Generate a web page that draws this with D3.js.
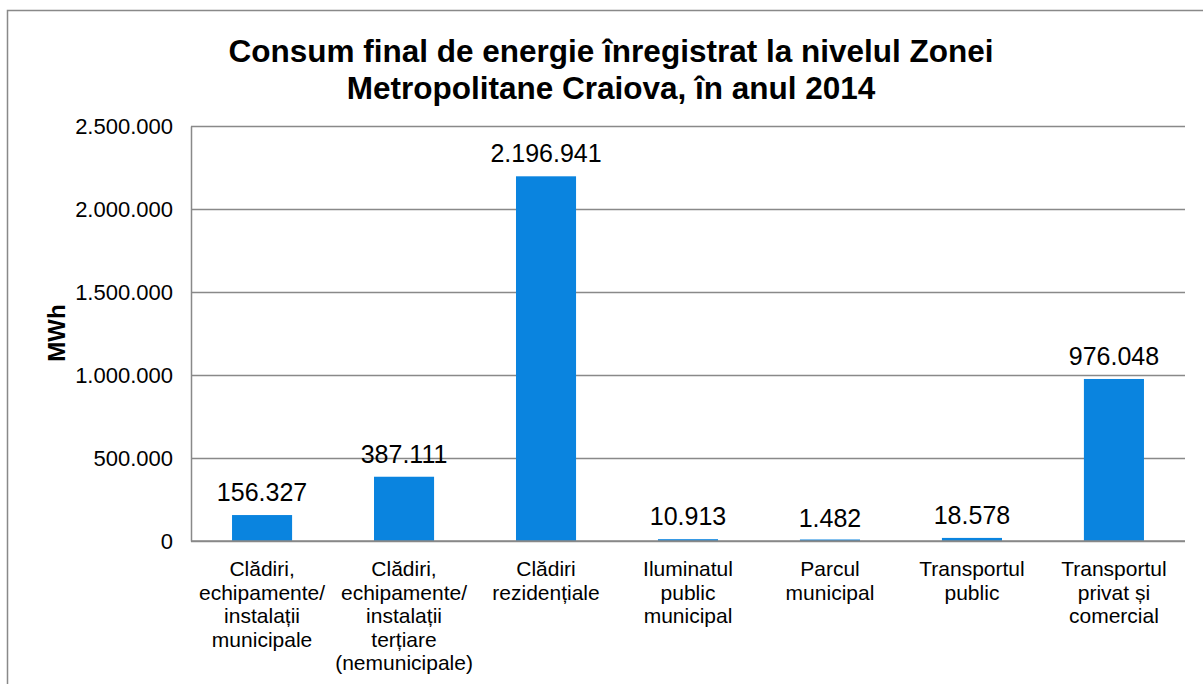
<!DOCTYPE html>
<html>
<head>
<meta charset="utf-8">
<script src="https://cdn.jsdelivr.net/npm/d3@7"></script>
<style>
html,body{margin:0;padding:0;background:#fff;}
svg{display:block;font-family:"Liberation Sans",Arial,sans-serif;}
</style>
</head>
<body>
<svg id="chart" width="1203" height="684"></svg>
<script>
const categories = [
  ["Clădiri,", "echipamente/", "instalații", "municipale"],
  ["Clădiri,", "echipamente/", "instalații", "terțiare", "(nemunicipale)"],
  ["Clădiri", "rezidențiale"],
  ["Iluminatul", "public", "municipal"],
  ["Parcul", "municipal"],
  ["Transportul", "public"],
  ["Transportul", "privat și", "comercial"]
];
const values = [156327, 387111, 2196941, 10913, 1482, 18578, 976048];
const yTicks = [0, 500000, 1000000, 1500000, 2000000, 2500000];
const titleLines = ["Consum final de energie înregistrat la nivelul Zonei", "Metropolitane Craiova, în anul 2014"];
const yTitle = "MWh";

const svg = d3.select("#chart");
const plot = {left: 191, right: 1185, top: 126, bottom: 541};
const gridColor = "#898989";
const barColor = "#0A84DF";

const locale = d3.formatLocale({decimal: ",", thousands: ".", grouping: [3], currency: ["", ""]});
const fmt = locale.format(",d");

const keys = categories.map((c, i) => "c" + i);
const x = d3.scaleBand().domain(keys).range([plot.left, plot.right])
  .paddingInner(0.577).paddingOuter(0.289);
const y = d3.scaleLinear().domain([0, 2500000]).range([plot.bottom, plot.top]);

// outer border
svg.append("rect").attr("x", 7.5).attr("y", 10.5).attr("width", 1400).attr("height", 1000)
  .attr("fill", "none").attr("stroke", gridColor).attr("stroke-width", 1.5);

// title
svg.append("g").selectAll("text").data(titleLines).join("text")
  .attr("x", 611).attr("y", (d, i) => 62 + i * 37)
  .attr("text-anchor", "middle").attr("font-weight", "bold").attr("font-size", 31.5)
  .attr("fill", "#000").text(d => d);

// gridlines
svg.append("g").selectAll("line").data(yTicks).join("line")
  .attr("x1", plot.left).attr("x2", plot.right)
  .attr("y1", d => Math.round(y(d)) + 0.5).attr("y2", d => Math.round(y(d)) + 0.5)
  .attr("stroke", gridColor).attr("stroke-width", 1.5);

// y axis
const yAxis = d3.axisLeft(y).tickValues(yTicks).tickFormat(fmt).tickSize(0).tickPadding(18);
const gy = svg.append("g").attr("transform", `translate(${plot.left},0)`).call(yAxis);
gy.select(".domain").attr("stroke", gridColor).attr("stroke-width", 1.5);
gy.selectAll("text").attr("font-size", 22).attr("fill", "#000")
  .attr("font-family", "Liberation Sans, Arial, sans-serif");

// y title
svg.append("text").attr("transform", "translate(65,333) rotate(-90)")
  .attr("text-anchor", "middle").attr("font-weight", "bold").attr("font-size", 24)
  .attr("fill", "#000").text(yTitle);

// bars
svg.append("g").selectAll("rect").data(values).join("rect")
  .attr("x", (d, i) => x(keys[i])).attr("width", x.bandwidth())
  .attr("y", d => Math.min(y(d), plot.bottom - 1.5))
  .attr("height", d => Math.max(plot.bottom - y(d), 1.5))
  .attr("fill", barColor);

// x axis baseline
svg.append("line").attr("x1", plot.left).attr("x2", plot.right)
  .attr("y1", plot.bottom).attr("y2", plot.bottom)
  .attr("stroke", gridColor).attr("stroke-width", 1.5);

// data labels
svg.append("g").selectAll("text").data(values).join("text")
  .attr("x", (d, i) => x(keys[i]) + x.bandwidth() / 2)
  .attr("y", d => y(d) - 14)
  .attr("text-anchor", "middle").attr("font-size", 25).attr("fill", "#000")
  .text(d => fmt(d));

// x labels
const gx = svg.append("g");
categories.forEach((lines, i) => {
  const t = gx.append("text").attr("text-anchor", "middle").attr("font-size", 21).attr("fill", "#000");
  lines.forEach((ln, j) => {
    t.append("tspan").attr("x", x(keys[i]) + x.bandwidth() / 2).attr("y", 576 + j * 23.5).text(ln);
  });
});
</script>
</body>
</html>
